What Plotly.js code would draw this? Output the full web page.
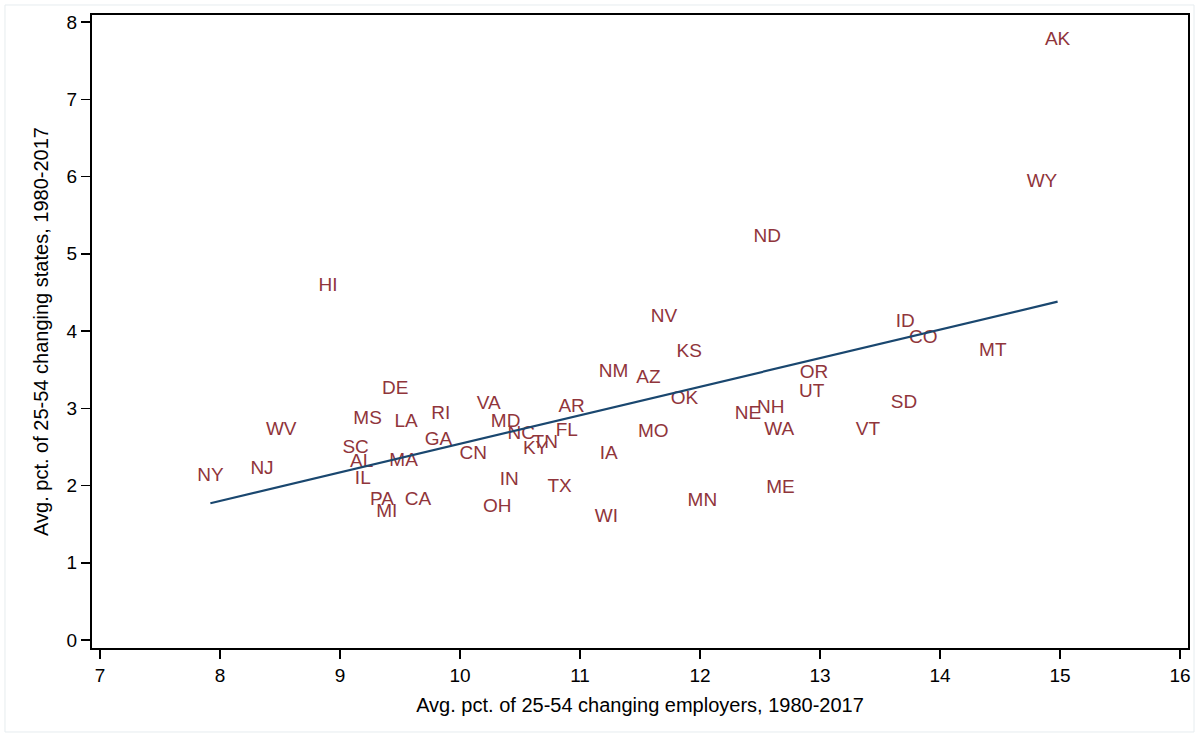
<!DOCTYPE html>
<html>
<head>
<meta charset="utf-8">
<script src="https://cdn.plot.ly/plotly-3.0.1.min.js"></script>
<style>
  html, body { margin: 0; padding: 0; background: #ffffff; }
  #chart { width: 1198px; height: 734px; }
</style>
</head>
<body>
<div id="chart"></div>
<script>
// State abbreviations and their average mobility rates, 1980-2017
const states = ["AK","WY","ND","HI","NV","ID","CO","KS","MT","NM",
                "OR","AZ","DE","UT","OK","SD","VA","AR","NH","RI",
                "NE","MS","LA","MD","WV","FL","VT","WA","MO","NC",
                "GA","TN","KY","SC","IA","CN","AL","MA","NJ","NY",
                "IL","IN","ME","TX","CA","PA","MN","OH","MI","WI"];

// Avg. pct. of 25-54 changing employers
const changingEmployers = [14.98,14.85,12.56,8.90,11.70,13.71,13.86,11.91,14.44,11.28,
                           12.95,11.57,9.46,12.93,11.87,13.70,10.24,10.93,12.59,9.84,
                           12.40,9.23,9.55,10.38,8.51,10.89,13.40,12.66,11.61,10.51,
                           9.82,10.71,10.63,9.13,11.24,10.11,9.18,9.53,8.35,7.92,
                           9.19,10.41,12.67,10.83,9.65,9.35,12.02,10.31,9.39,11.22];

// Avg. pct. of 25-54 changing states
const changingStates = [7.77,5.93,5.21,4.58,4.18,4.11,3.91,3.73,3.74,3.47,
                        3.45,3.39,3.25,3.21,3.12,3.07,3.05,3.01,3.00,2.92,
                        2.92,2.86,2.82,2.82,2.72,2.70,2.72,2.72,2.69,2.66,
                        2.59,2.55,2.47,2.48,2.41,2.41,2.30,2.31,2.21,2.12,
                        2.08,2.07,1.97,1.98,1.81,1.81,1.79,1.72,1.65,1.59];

// Linear fit: fitted values at the lowest and highest employer-change rates
const fitEmployers = [7.92, 14.98];
const fitStates = [1.77, 4.38];

const xTicks = [7, 8, 9, 10, 11, 12, 13, 14, 15, 16];
const yTicks = [0, 1, 2, 3, 4, 5, 6, 7, 8];

const labelColor = "#90353b";
const lineColor = "#1a476f";
const font = "Liberation Sans, Arial, Helvetica, sans-serif";

const traces = [
  {
    type: "scatter",
    mode: "text",
    x: changingEmployers,
    y: changingStates,
    text: states,
    textposition: "middle center",
    textfont: { family: font, size: 19, color: labelColor },
    hoverinfo: "text",
    showlegend: false,
    cliponaxis: false
  },
  {
    type: "scatter",
    mode: "lines",
    x: fitEmployers,
    y: fitStates,
    line: { color: lineColor, width: 2.2 },
    hoverinfo: "skip",
    showlegend: false
  }
];

const axisCommon = {
  showgrid: false,
  zeroline: false,
  showline: true,
  linecolor: "#000000",
  linewidth: 2,
  mirror: true,
  ticks: "outside",
  ticklen: 9,
  tickwidth: 1.5,
  tickcolor: "#000000",
  tickfont: { family: font, size: 19, color: "#000000" }
};

const layout = {
  width: 1198,
  height: 734,
  margin: { l: 92, r: 10, t: 15, b: 86 },
  paper_bgcolor: "#ffffff",
  plot_bgcolor: "#ffffff",
  font: { family: font, color: "#000000" },
  xaxis: Object.assign({}, axisCommon, {
    range: [6.9333, 16.0667],
    tickvals: xTicks,
    ticktext: xTicks.map(String),
    title: { text: "Avg. pct. of 25-54 changing employers, 1980-2017", font: { family: font, size: 20 }, standoff: 13 }
  }),
  yaxis: Object.assign({}, axisCommon, {
    range: [-0.1036, 8.0906],
    tickvals: yTicks,
    ticktext: yTicks.map(String),
    title: { text: "Avg. pct. of 25-54 changing states, 1980-2017", font: { family: font, size: 20 }, standoff: 13 }
  }),
  shapes: [
    {
      type: "rect", xref: "paper", yref: "paper",
      x0: -0.0794, x1: 1.0055, y0: -0.1327, y1: 1.0158,
      line: { color: "#e6ecef", width: 1 }, fillcolor: "rgba(0,0,0,0)", layer: "below"
    }
  ]
};

Plotly.newPlot("chart", traces, layout, { displayModeBar: false, staticPlot: true });
</script>
</body>
</html>
